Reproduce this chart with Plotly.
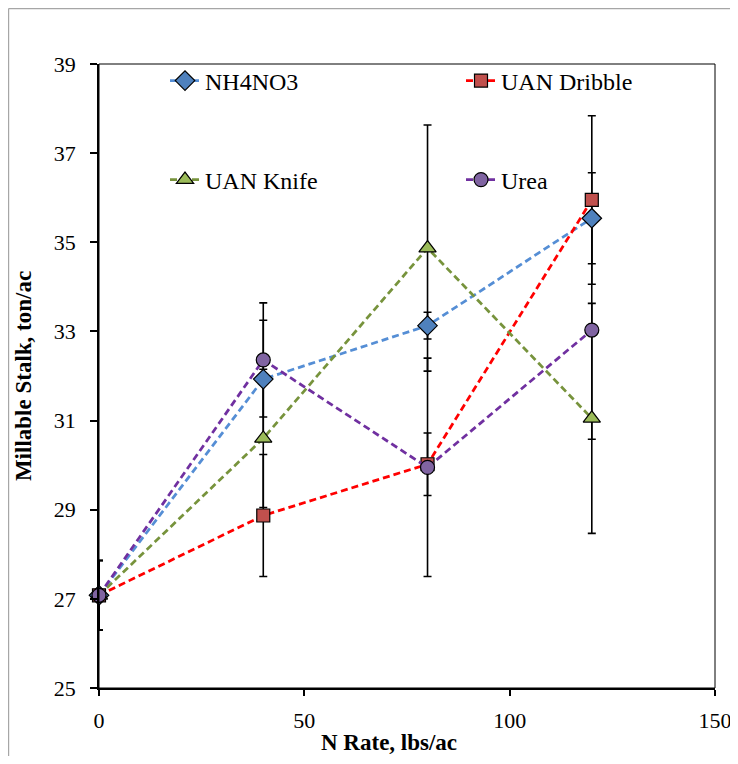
import plotly.graph_objects as go

n_rate = [0, 40, 80, 120]
series_names = ["NH4NO3", "UAN Dribble", "UAN Knife", "Urea"]
nh4no3 = [27.08, 31.93, 33.13, 35.54]
uan_dribble = [27.08, 28.87, 30.02, 35.95]
uan_knife = [27.08, 30.60, 34.87, 31.05]
urea = [27.08, 32.36, 29.95, 33.03]
nh4no3_err = [0.78, 1.32, 0.30, 1.02]
uan_dribble_err = [0.78, 1.37, 0.70, 1.89]
uan_knife_err = [0.78, 1.55, 2.76, 2.58]
urea_err = [0.78, 1.28, 2.45, 2.45]
x_title = "N Rate, lbs/ac"
y_title = "Millable Stalk, ton/ac"

values = [nh4no3, uan_dribble, uan_knife, urea]
errors = [nh4no3_err, uan_dribble_err, uan_knife_err, urea_err]
line_colors = ["#558ED5", "#FF0000", "#77933C", "#7030A0"]
marker_colors = ["#4F81BD", "#C0504D", "#9BBB59", "#8064A2"]
symbols = ["diamond", "square", "triangle-up", "circle"]
sizes = [15, 13, 15, 14]
legends = ["legend", "legend2", "legend3", "legend4"]

FONT = "Liberation Serif"

# page offsets (body margin of 8px)
OFF = 8
W, H = 738 - OFF, 764 - 2 * OFF
PL, PR, PT, PB = 99, 715, 64, 688   # plot area in page pixels
PW, PH = PR - PL, PB - PT

fig = go.Figure()

# error bars first (beneath lines and markers)
for name, v, e in zip(series_names, values, errors):
    fig.add_trace(go.Scatter(
        x=n_rate, y=v, mode="markers",
        marker=dict(opacity=0, size=2),
        error_y=dict(type="data", array=e, visible=True, color="black",
                     thickness=1.6, width=4),
        showlegend=False, hoverinfo="skip", cliponaxis=True,
    ))

for name, v, lc, mc, sym, sz, lg in zip(series_names, values, line_colors,
                                       marker_colors, symbols, sizes, legends):
    fig.add_trace(go.Scatter(
        x=n_rate, y=v, mode="lines+markers", name=name,
        line=dict(color=lc, width=2.75, dash="7px,4px"),
        marker=dict(symbol=sym, size=sz, color=mc,
                    line=dict(color="black", width=1.2)),
        legend=lg, cliponaxis=False,
    ))


def leg(px, py):
    return dict(x=(px - PL) / PW, y=(PB - py) / PH,
                xanchor="left", yanchor="middle", orientation="v",
                bgcolor="rgba(0,0,0,0)", borderwidth=0,
                font=dict(family="Liberation Serif, serif", size=24, color="black"))


bx = (8.6 - PL) / PW
by = (PB - 8.6) / PH

fig.update_layout(
    width=W, height=H,
    margin=dict(l=PL - OFF, r=OFF + W - PR, t=PT - OFF, b=OFF + H - PB),
    paper_bgcolor="white", plot_bgcolor="white",
    font=dict(family=FONT, size=22, color="black"),
    legend=leg(165, 81),
    legend2=leg(461, 81),
    legend3=leg(165, 180),
    legend4=leg(461, 180),
    xaxis=dict(range=[0, 150], dtick=50, tick0=0, showgrid=False, zeroline=False,
               showline=True, linecolor="black", linewidth=1.8,
               ticks="outside", ticklen=6, tickwidth=1.5, tickcolor="black",
               ticklabelstandoff=6, automargin=False,
               tickfont=dict(family=FONT, size=22, color="black")),
    yaxis=dict(range=[25, 39], dtick=2, tick0=25, showgrid=False, zeroline=False,
               showline=True, linecolor="black", linewidth=1.8,
               ticks="outside", ticklen=7, tickwidth=1.5, tickcolor="black",
               ticklabelstandoff=10, automargin=False,
               tickfont=dict(family=FONT, size=22, color="black"),
               title=dict(text="<b>" + y_title + "</b>", standoff=16,
                          font=dict(family=FONT, size=23, color="black"))),
    annotations=[
        dict(text="<b>" + x_title + "</b>", xref="paper", yref="paper",
             x=(389 - PL) / PW, y=(PB - 742) / PH, xanchor="center",
             yanchor="middle", showarrow=False,
             font=dict(family=FONT, size=23, color="black")),
    ],
    shapes=[
        dict(type="rect", xref="paper", yref="paper", x0=0, x1=1, y0=0, y1=1,
             line=dict(color="black", width=1), layer="above"),
        dict(type="line", xref="paper", yref="paper",
             x0=bx, x1=1.2, y0=by, y1=by,
             line=dict(color="#A6A6A6", width=1.2), layer="below"),
        dict(type="line", xref="paper", yref="paper",
             x0=bx, x1=bx, y0=-0.3, y1=by,
             line=dict(color="#A6A6A6", width=1.2), layer="below"),
    ],
)

fig.write_html("out.html")
